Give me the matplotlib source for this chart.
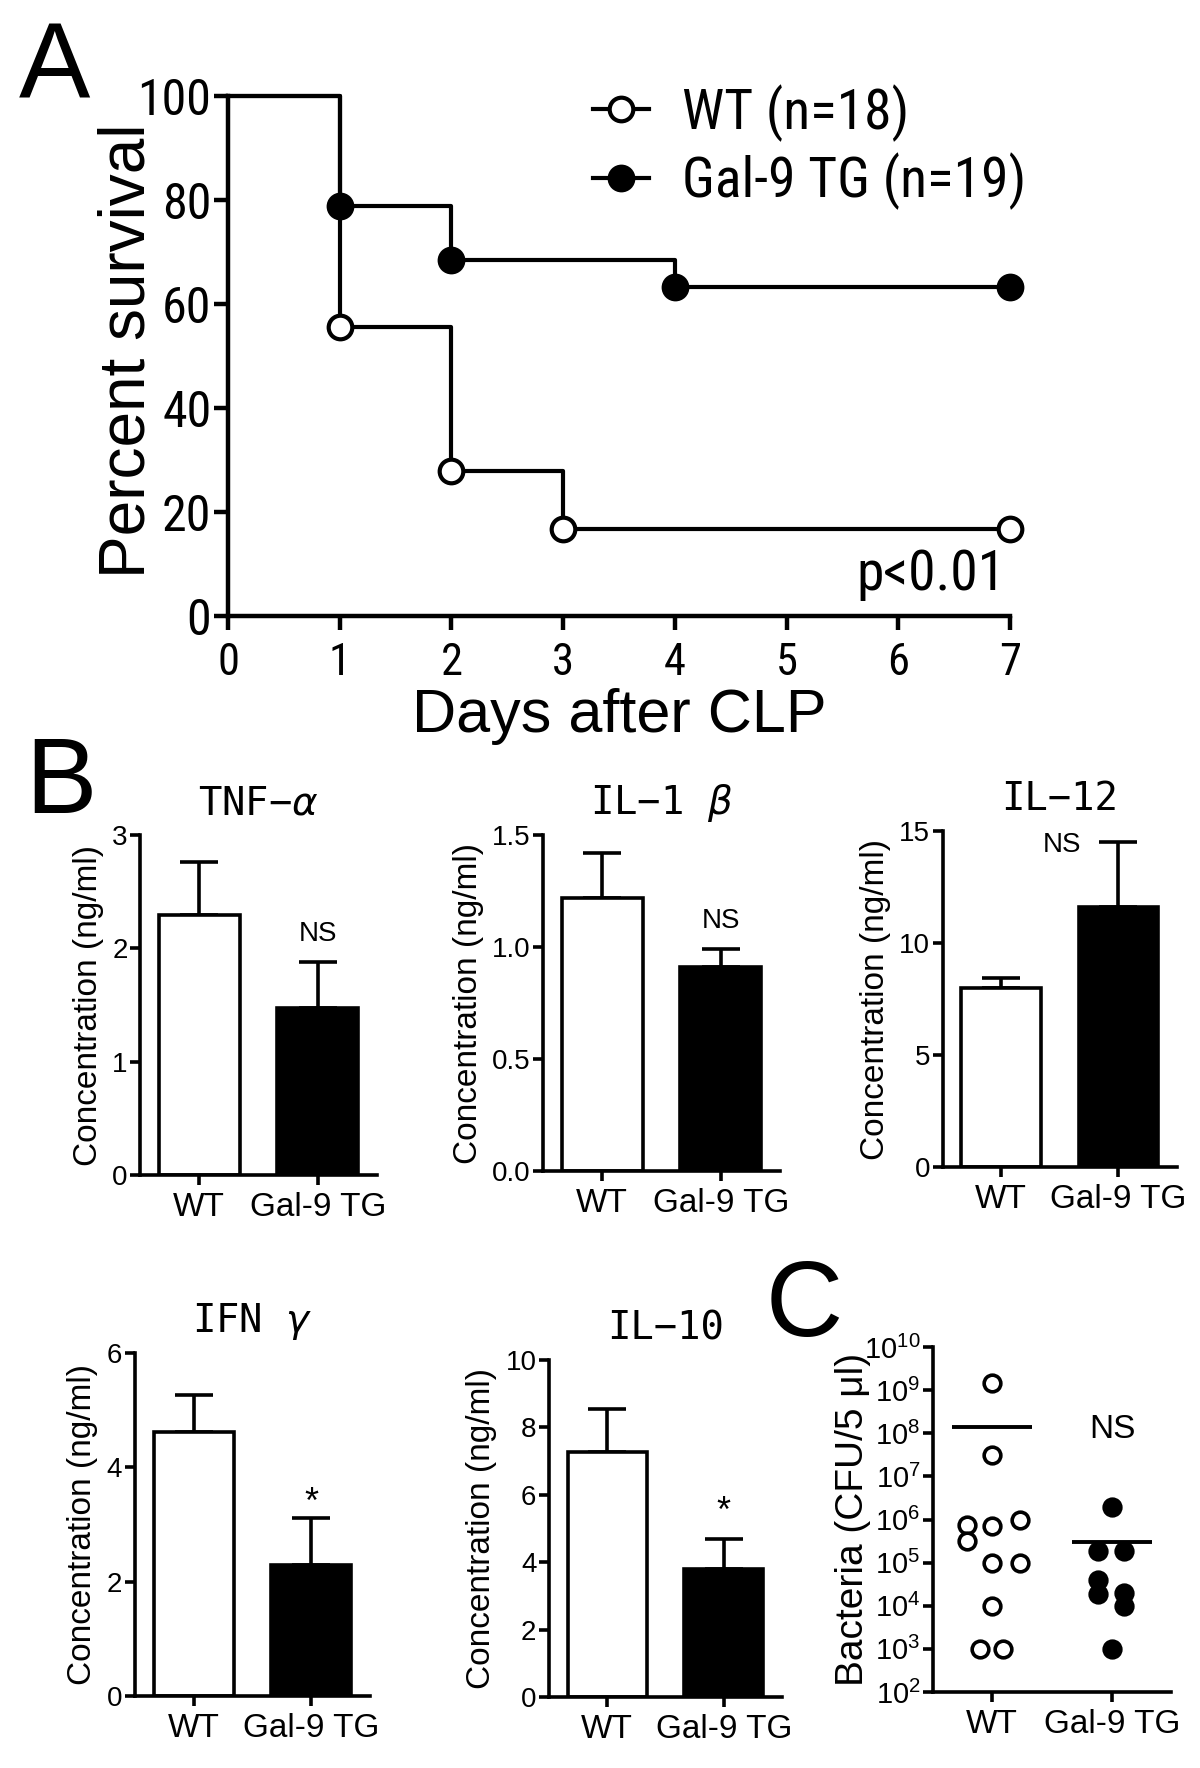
import numpy as np
import matplotlib
matplotlib.use('Agg')
import matplotlib.pyplot as plt
from matplotlib.font_manager import FontProperties, findfont
from matplotlib.lines import Line2D
from matplotlib.ticker import FormatStrFormatter

# --- données ---
days_wt = [0, 1, 2, 3, 7]
surv_wt = [100, 55.6, 27.8, 16.7, 16.7]
days_tg = [0, 1, 2, 4, 7]
surv_tg = [100, 78.9, 68.4, 63.2, 63.2]

groups = ['WT', 'Gal-9 TG']

tnf_mean = [2.29, 1.47]
tnf_err = [0.47, 0.41]
il1b_mean = [1.22, 0.91]
il1b_err = [0.20, 0.08]
il12_mean = [7.98, 11.61]
il12_err = [0.45, 2.92]
ifng_mean = [4.61, 2.29]
ifng_err = [0.65, 0.82]
il10_mean = [7.27, 3.79]
il10_err = [1.27, 0.91]

# bactéries (CFU/5 ul)
cfu_wt = [1.5e9, 3.1e7, 7.5e5, 3.2e5, 7.0e5, 1.0e6, 1.0e5, 1.0e5, 1.0e4, 1.0e3, 1.0e3]
jit_wt = [0, 0, -0.21, -0.21, 0, 0.23, 0, 0.23, 0, -0.095, 0.095]
cfu_tg = [2.0e6, 1.9e5, 1.9e5, 3.9e4, 1.9e4, 2.0e4, 1.0e4, 1.0e3]
jit_tg = [0, -0.12, 0.10, -0.12, -0.12, 0.10, 0.10, 0]

# --- polices ---
narrow = 'Liberation Sans'
for fam in ['Liberation Sans Narrow', 'DejaVu Sans Condensed', 'Roboto Condensed']:
    try:
        findfont(FontProperties(family=fam), fallback_to_default=False)
        narrow = fam
        break
    except ValueError:
        pass

plt.rcParams['font.family'] = ['Liberation Sans', 'DejaVu Sans']

W, H = 1200, 1768
fig = plt.figure(figsize=(W / 100, H / 100), dpi=100)


def box(l, r, t, b):
    return [l / W, 1 - b / H, (r - l) / W, (b - t) / H]


def style(ax, lw=2.6, length=7):
    for s in ['top', 'right']:
        ax.spines[s].set_visible(False)
    for s in ['left', 'bottom']:
        ax.spines[s].set_linewidth(lw)
    ax.tick_params(width=lw, length=length, color='k')


# ---------------- A ----------------
axA = fig.add_axes(box(228, 1010, 96, 616))
style(axA, lw=3.2, length=10)
axA.step(days_wt, surv_wt, where='post', color='k', lw=3, clip_on=False)
axA.step(days_tg, surv_tg, where='post', color='k', lw=3, clip_on=False)
axA.plot(days_wt[1:], surv_wt[1:], 'o', ms=17, mfc='white', mec='k', mew=3,
         clip_on=False, zorder=5)
axA.plot(days_tg[1:], surv_tg[1:], 'o', ms=17, mfc='k', mec='k', mew=3,
         clip_on=False, zorder=5)
axA.set_xlim(0, 7)
axA.set_ylim(0, 100)
axA.set_xticks(range(8))
axA.set_yticks(range(0, 101, 20))
axA.tick_params(axis='x', labelsize=32, pad=9)
axA.tick_params(axis='y', labelsize=36, pad=2)
for lab in axA.get_xticklabels() + axA.get_yticklabels():
    lab.set_fontfamily(narrow)
axA.set_ylabel('Percent survival', fontsize=46)
axA.yaxis.set_label_coords(-0.09, 0.51)
axA.set_xlabel('Days after CLP', fontsize=44)
axA.xaxis.set_label_coords(0.5, -0.138)
axA.text(6.96, 5, 'p<0.01', ha='right', va='baseline', fontsize=40,
         fontfamily=narrow)
handles = [Line2D([], [], color='k', lw=3, marker='o', ms=17, mfc='white', mec='k', mew=3),
           Line2D([], [], color='k', lw=3, marker='o', ms=17, mfc='k', mec='k', mew=3)]
axA.legend(handles, ['WT (n=18)', 'Gal-9 TG (n=19)'], loc='upper left',
           bbox_to_anchor=(593 / W, 1 - 84 / H), bbox_transform=fig.transFigure,
           frameon=False, prop={'family': narrow, 'size': 40},
           handlelength=1.0, handletextpad=0.6, labelspacing=0.2,
           borderpad=0, borderaxespad=0)

# ---------------- B ----------------
panels = [
    ('TNF\u2212$\\alpha$', tnf_mean, tnf_err, [0, 1, 2, 3], 'NS', (1, 2.13), (140, 377, 835, 1175)),
    ('IL\u22121 $\\beta$', il1b_mean, il1b_err, [0, 0.5, 1.0, 1.5], 'NS', (1, 1.116), (543, 780, 835, 1171)),
    ('IL\u221212', il12_mean, il12_err, [0, 5, 10, 15], 'NS', (0.52, 14.39), (942.5, 1177, 831, 1167)),
    ('IFN $\\gamma$', ifng_mean, ifng_err, [0, 2, 4, 6], '*', (1, 3.2), (134.7, 370, 1353, 1696)),
    ('IL\u221210', il10_mean, il10_err, [0, 2, 4, 6, 8, 10], '*', (1, 5.19), (549, 782, 1360, 1697)),
]

x = np.arange(2)
for title, mean, err, yt, sig, sigpos, pos in panels:
    ax = fig.add_axes(box(*pos))
    style(ax)
    ax.bar(x, mean, width=0.68, color=['white', 'black'], edgecolor='k',
           linewidth=2.6, zorder=2)
    ax.errorbar(x, mean, yerr=[np.zeros(2), err], fmt='none', ecolor='k',
                elinewidth=2.6, capsize=14, capthick=2.6, zorder=1)
    ax.set_xlim(-0.5, 1.5)
    ax.set_ylim(yt[0], yt[-1])
    ax.set_yticks(yt)
    if yt[-1] == 1.5:
        ax.yaxis.set_major_formatter(FormatStrFormatter('%.1f'))
    ax.set_xticks(x)
    ax.set_xticklabels(groups)
    ax.tick_params(axis='x', labelsize=24, pad=5)
    ax.tick_params(axis='y', labelsize=20, pad=2)
    ax.set_ylabel('Concentration (ng/ml)', fontsize=24, labelpad=6)
    ax.set_title(title, fontsize=28, fontfamily='DejaVu Sans Mono', pad=15)
    if sig == '*':
        ax.text(sigpos[0], sigpos[1], sig, ha='center', va='baseline', fontsize=26)
    else:
        ax.text(sigpos[0], sigpos[1], sig, ha='center', va='center', fontsize=20)

# ---------------- C ----------------
axC = fig.add_axes(box(933, 1171, 1347, 1692))
style(axC)
axC.set_yscale('log')
axC.scatter(np.array(jit_wt), cfu_wt, s=12 ** 2, facecolors='white',
            edgecolors='k', linewidths=2.6, zorder=3, clip_on=False)
axC.scatter(1 + np.array(jit_tg), cfu_tg, s=12 ** 2, facecolors='k',
            edgecolors='k', linewidths=2.6, zorder=3, clip_on=False)
axC.hlines([np.mean(cfu_wt), np.mean(cfu_tg)], [-0.33, 0.67], [0.33, 1.33],
           color='k', lw=2.8)
axC.set_xlim(-0.49, 1.49)
axC.set_ylim(1e2, 1e10)
dec = np.arange(2, 11)
axC.set_yticks(10.0 ** dec)
axC.set_yticklabels(['$\\mathregular{10^{%d}}$' % d for d in dec])
axC.minorticks_off()
axC.set_xticks(x)
axC.set_xticklabels(groups)
axC.tick_params(axis='x', labelsize=24, pad=5)
axC.tick_params(axis='y', labelsize=21, pad=2)
axC.set_ylabel('Bacteria (CFU/5 \u03bcl)', fontsize=28)
axC.yaxis.set_label_coords(-0.262, 0.5)
axC.text(1, 1.2e8, 'NS', ha='center', va='center', fontsize=24)

# lettres des panneaux
fig.text(19 / W, 1 - 99 / H, 'A', fontsize=77, va='baseline')
fig.text(25 / W, 1 - 813 / H, 'B', fontsize=77, va='baseline')
fig.text(766 / W, 1 - 1336 / H, 'C', fontsize=77, va='baseline')

fig.savefig('out.png', dpi=100)
